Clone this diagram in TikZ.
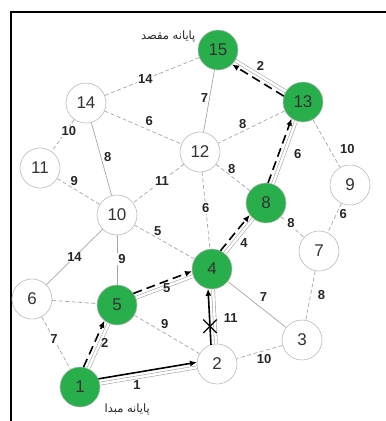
\documentclass[tikz,border=0pt]{standalone}
\usepackage{fontspec}
\setmainfont{Liberation Sans}
\newfontfamily\farsi[Script=Arabic]{DejaVu Sans}
\TeXXeTstate=1
\usetikzlibrary{positioning,calc,shapes.misc,arrows.meta}
\definecolor{stopgreen}{RGB}{40,175,75}

\tikzset{
  station/.style={circle, draw=gray!55, line width=0.6pt, minimum size=40pt,
    inner sep=0pt, font=\fontsize{17}{17}\selectfont, text=black!80},
  visited/.style={station, fill=stopgreen},
  link/.style={draw=gray!70, line width=0.7pt},
  dlink/.style={link, dash pattern=on 4pt off 2.5pt},
  route/.style={draw=gray!70, line width=0.6pt, double=white, double distance=2.4pt},
  hop/.style={black, line width=1.6pt, -{Latex[length=7pt,width=6pt]}, dash pattern=on 9pt off 5pt},
  push/.style={black, line width=1.6pt, -{Latex[length=7pt,width=6pt]}},
  wt/.style={font=\bfseries\fontsize{13}{13}\selectfont, inner sep=1pt, text=black!85},
  wton/.style={wt, fill=white},
  farsilbl/.style={font=\farsi\fontsize{11.5}{13}\selectfont, inner sep=0pt, text=black!85},
  blocked/.style={cross out, draw, line width=1.3pt, minimum size=12pt, inner sep=0pt,
    shorten <=0pt, shorten >=0pt},
}

% arrow drawn beside an edge, on the left of its direction
\newcommand{\detour}[3]{%
  \draw[#3, shorten <=19.5pt, shorten >=19.5pt]
    ($(#1)!5pt!90:(#2)$) -- ($(#2)!5pt!-90:(#1)$);}

\begin{document}
\begin{tikzpicture}[on grid]
  \useasboundingbox (0,0) rectangle (386pt,-421pt);
  % frame
  \draw[line width=1.8pt] (386pt,-12pt) -- (11pt,-12pt) -- (11pt,-421pt);

  % stations
  \node[visited] (n1) at (80pt,-387pt) {1};
  \node[station, above right=23pt and 137pt of n1] (n2) {2};
  \node[visited, above right=82pt and 37pt of n1] (n5) {5};
  \node[station, above left=88pt and 48pt of n1] (n6) {6};
  \node[visited, above left=95pt and 5pt of n2] (n4) {4};
  \node[station, above right=24pt and 85pt of n2] (n3) {3};
  \node[station, above=90pt of n5] (n10) {10};
  \node[station, above right=89pt and 17pt of n3] (n7) {7};
  \node[visited, above right=66pt and 54pt of n4] (n8) {8};
  \node[station, above left=51pt and 66pt of n8] (n12) {12};
  \node[station, above right=66pt and 31pt of n7] (n9) {9};
  \node[station, above left=47pt and 77pt of n10] (n11) {11};
  \node[station, above left=112pt and 31pt of n10] (n14) {14};
  \node[visited, above right=101pt and 37pt of n8] (n13) {13};
  \node[visited, above left=52pt and 85pt of n13] (n15) {15};

  \node[farsilbl, on grid=false, above left=-7pt and 8pt of n15] (dest) {\beginR پایانه مقصد\endR};
  \node[farsilbl, on grid=false, below right=2pt and 10pt of n1] (orig) {\beginR پایانه مبدا\endR};

  % edges
  \draw[dlink] (n15) -- node[wton, pos=.57] {14} (n14);
  \draw[link] (n15) -- node[wt, pos=.46, left] {7} (n12);
  \draw[route] (n15) -- node[wt, pos=.5, above=4pt] {2} (n13);
  \draw[dlink] (n14) -- node[wt, pos=.58, above=3pt] {6} (n12);
  \draw[dlink] (n13) -- node[wt, pos=.63, above=1pt] {8} (n12);
  \draw[route] (n13) -- node[wt, pos=.53, right=9pt] {6} (n8);
  \draw[dlink] (n13) -- node[wt, pos=.62, right=9pt] {10} (n9);
  \draw[dlink] (n14) -- node[wton, pos=.37, xshift=3pt] {10} (n11);
  \draw[link] (n14) -- node[wt, pos=.47, right=2pt] {8} (n10);
  \draw[dlink] (n11) -- node[wt, pos=.4, above=2pt] {9} (n10);
  \draw[dlink] (n12) -- node[wton, pos=.43] {11} (n10);
  \draw[dlink] (n12) -- node[wt, pos=.46, above=1pt] {8} (n8);
  \draw[dlink] (n12) -- node[wton, pos=.47] {6} (n4);
  \draw[dlink] (n9) -- node[wt, pos=.38, right=2pt] {6} (n7);
  \draw[dlink] (n8) -- node[wton, pos=.43, yshift=3pt] {8} (n7);
  \draw[route] (n4) -- node[wt, pos=.48, below right=1pt] {4} (n8);
  \draw[dlink] (n10) -- node[wt, pos=.385, above=1pt] {5} (n4);
  \draw[link] (n10) -- node[wton, pos=.5] {14} (n6);
  \draw[link] (n10) -- node[wton, pos=.48, right=0pt] {9} (n5);
  \draw[link] (n4) -- node[wt, pos=.5, above right=2pt] {7} (n3);
  \draw[dlink] (n7) -- node[wt, pos=.49, right=6pt] {8} (n3);
  \draw[dlink] (n6) -- (n5);
  \draw[route] (n5) -- node[wt, pos=.54, below=-4pt] {5} (n4);
  \draw[dlink] (n5) -- node[wt, pos=.39, above right=0pt] {9} (n2);
  \draw[route] (n2) -- node[wt, pos=.48, right=8pt] {11} (n4);
  \draw[dlink] (n3) -- node[wt, pos=.4, below=2pt] {10} (n2);
  \draw[dlink] (n6) -- node[wton, pos=.43] {7} (n1);
  \draw[route] (n1) -- node[wt, pos=.57, right=0pt] {2} (n5);
  \draw[route] (n1) -- node[wt, pos=.38, below=2pt] {1} (n2);

  % chosen path
  \detour{n1}{n2}{push}
  \detour{n1}{n5}{hop}
  \detour{n5}{n4}{hop}
  \detour{n4}{n8}{hop}
  \detour{n8}{n13}{hop}
  \detour{n13}{n15}{hop}
  \draw[push, shorten <=19.5pt, shorten >=19.5pt]
    ($(n2)!5pt!90:(n4)$) -- node[pos=.4, blocked] (cut) {} ($(n4)!5pt!-90:(n2)$);
\end{tikzpicture}
\end{document}
